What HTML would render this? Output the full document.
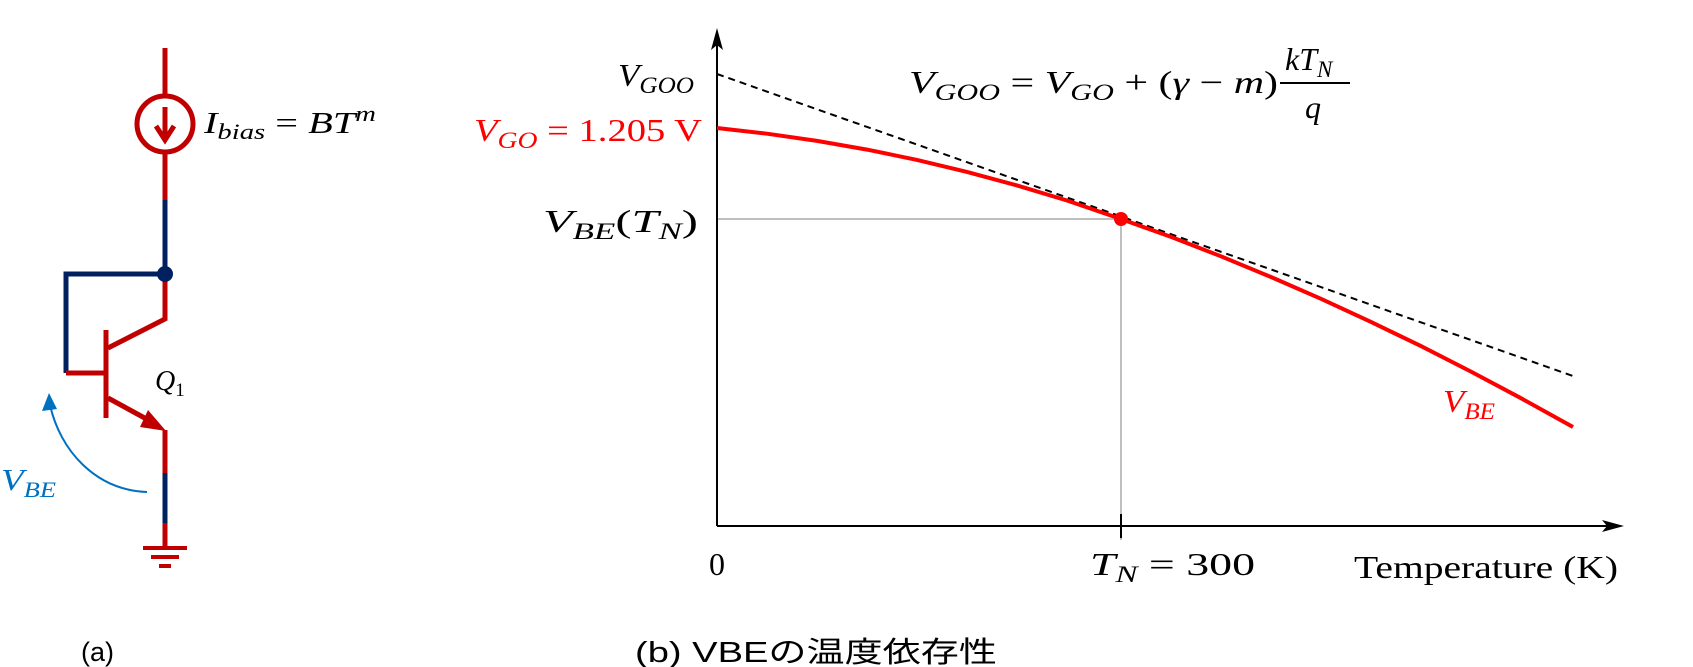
<!DOCTYPE html>
<html><head><meta charset="utf-8"><style>
body{margin:0;background:#fff;}
svg{display:block;}
.m{font-family:"Liberation Serif",serif;font-style:italic;}
.r{font-family:"Liberation Serif",serif;font-style:normal;}
</style></head><body>
<svg width="1693" height="667" viewBox="0 0 1693 667" xmlns="http://www.w3.org/2000/svg">
<!-- circuit -->
<g fill="none" stroke-linecap="butt">
<line x1="165" y1="48" x2="165" y2="96" stroke="#c00000" stroke-width="5"/>
<circle cx="165" cy="124" r="28" stroke="#c00000" stroke-width="5"/>
<line x1="165" y1="107" x2="165" y2="140" stroke="#c00000" stroke-width="5"/>
<path d="M156 126 L165 140 L174 126" stroke="#c00000" stroke-width="5"/>
<line x1="165" y1="152" x2="165" y2="200" stroke="#c00000" stroke-width="5"/>
<line x1="165" y1="200" x2="165" y2="274" stroke="#002060" stroke-width="5"/>
<path d="M165 274 L66 274 L66 373" stroke="#002060" stroke-width="5"/>
<line x1="66" y1="373" x2="106" y2="373" stroke="#c00000" stroke-width="5"/>
<line x1="106" y1="330" x2="106" y2="418" stroke="#c00000" stroke-width="5"/>
<path d="M165 274 L165 319 L108 348" stroke="#c00000" stroke-width="5"/>
<line x1="108" y1="398" x2="152" y2="422" stroke="#c00000" stroke-width="5"/>
<line x1="165" y1="430" x2="165" y2="473" stroke="#c00000" stroke-width="5"/>
<line x1="165" y1="473" x2="165" y2="523" stroke="#002060" stroke-width="5"/>
<line x1="165" y1="523" x2="165" y2="548" stroke="#c00000" stroke-width="5"/>
<line x1="143" y1="548" x2="187" y2="548" stroke="#c00000" stroke-width="4"/>
<line x1="151" y1="557" x2="179" y2="557" stroke="#c00000" stroke-width="4"/>
<line x1="159" y1="566" x2="171" y2="566" stroke="#c00000" stroke-width="4"/>
<path d="M147 492 C95 490 60 450 50 405" stroke="#0070c0" stroke-width="2"/>
</g>
<circle cx="165" cy="274" r="8" fill="#002060"/>
<polygon points="166,431 140,427 148,410" fill="#c00000"/>
<polygon points="49,393 42,411 57,409" fill="#0070c0"/>
<text x="204" y="133" class="m" font-size="31" textLength="172" lengthAdjust="spacingAndGlyphs">I<tspan font-size="22" dy="6">bias</tspan><tspan class="r" dy="-6"> = </tspan>BT<tspan font-size="22" dy="-12">m</tspan></text>
<text x="155" y="390" class="m" font-size="28">Q<tspan class="r" font-size="19" dy="6">1</tspan></text>
<text x="1" y="490" class="m" font-size="31" fill="#0070c0" textLength="55" lengthAdjust="spacingAndGlyphs">V<tspan font-size="22" dy="7">BE</tspan></text>
<!-- chart -->
<line x1="717" y1="219" x2="1121" y2="219" stroke="#bfbfbf" stroke-width="2"/>
<line x1="1121" y1="219" x2="1121" y2="540" stroke="#bfbfbf" stroke-width="2"/>
<line x1="1121" y1="514" x2="1121" y2="538" stroke="#000" stroke-width="2"/>
<line x1="717" y1="526" x2="717" y2="40" stroke="#000" stroke-width="2"/>
<polygon points="717,28 711,50 717,45 723,50" fill="#000"/>
<line x1="717" y1="526" x2="1612" y2="526" stroke="#000" stroke-width="2"/>
<polygon points="1624,526 1602,520 1607,526 1602,532" fill="#000"/>
<line x1="717" y1="74" x2="1573" y2="376" stroke="#000" stroke-width="2" stroke-dasharray="7,5"/>
<polyline fill="none" stroke="#ff0000" stroke-width="4" points="717,128 767,133.7 817,140.9 867,149.6 917,159.9 967,171.9 1017,185.4 1067,200.5 1121,219 1171,236.9 1221,256.3 1271,277 1321,298.8 1371,321.9 1421,346.1 1471,371.6 1521,398.2 1573,427"/>
<circle cx="1121" cy="219" r="7" fill="#ff0000"/>
<text x="618" y="86" class="m" font-size="32" textLength="76" lengthAdjust="spacingAndGlyphs">V<tspan font-size="23" dy="7">GOO</tspan></text>
<text x="474" y="141" class="m" font-size="32" fill="#ff0000" textLength="228" lengthAdjust="spacingAndGlyphs">V<tspan font-size="23" dy="7">GO</tspan><tspan class="r" dy="-7"> = 1.205 V</tspan></text>
<text x="543" y="232" class="m" font-size="32" textLength="155" lengthAdjust="spacingAndGlyphs">V<tspan font-size="23" dy="7">BE</tspan><tspan class="r" dy="-7">(</tspan>T<tspan font-size="23" dy="7">N</tspan><tspan class="r" dy="-7">)</tspan></text>
<text x="909" y="93" class="m" font-size="32" textLength="369" lengthAdjust="spacingAndGlyphs">V<tspan font-size="23" dy="7">GOO</tspan><tspan class="r" dy="-7"> = </tspan>V<tspan font-size="23" dy="7">GO</tspan><tspan class="r" dy="-7"> + (</tspan>γ<tspan class="r"> − </tspan>m<tspan class="r">)</tspan></text>
<text x="1285" y="70" class="m" font-size="32">kT<tspan font-size="23" dy="7">N</tspan></text>
<line x1="1280" y1="83" x2="1350" y2="83" stroke="#000" stroke-width="2"/>
<text x="1305" y="118" class="m" font-size="32">q</text>
<text x="1443" y="412" class="m" font-size="32" fill="#ff0000" textLength="52" lengthAdjust="spacingAndGlyphs">V<tspan font-size="23" dy="7">BE</tspan></text>
<text x="709" y="575" class="r" font-size="32">0</text>
<text x="1090" y="575" class="m" font-size="32" textLength="165" lengthAdjust="spacingAndGlyphs">T<tspan font-size="23" dy="7">N</tspan><tspan class="r" dy="-7"> = 300</tspan></text>
<text x="1354" y="578" class="r" font-size="32" textLength="264" lengthAdjust="spacingAndGlyphs">Temperature (K)</text>
<text x="81" y="661" font-family="Liberation Sans, sans-serif" font-size="27">(a)</text>
<text x="635" y="662" font-family="Liberation Sans, 'Noto Sans CJK JP', sans-serif" font-size="29" textLength="362" lengthAdjust="spacingAndGlyphs">(b)  VBEの温度依存性</text>
</svg>
</body></html>
